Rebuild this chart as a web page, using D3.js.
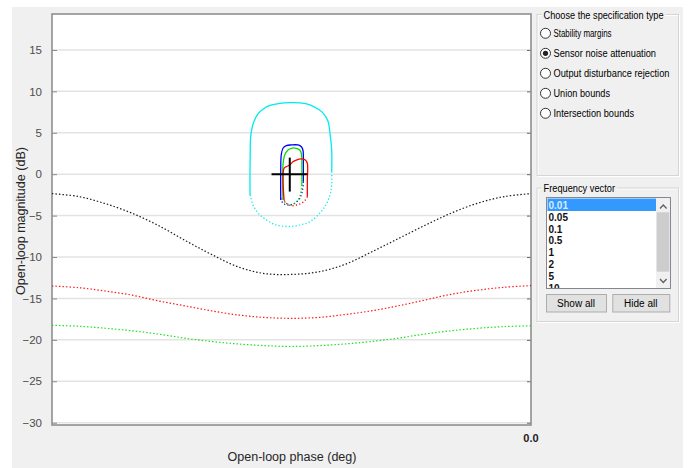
<!DOCTYPE html>
<html><head><meta charset="utf-8">
<script src="https://cdn.jsdelivr.net/npm/d3@7"></script>
<style>
html,body{margin:0;padding:0;background:#fff;}
svg{display:block;font-family:"Liberation Sans",Arial,sans-serif;}
</style></head>
<body><svg id="chart" width="691" height="468"></svg>
<script>
// ---------- data ----------
const phaseGrid = [-360,-340,-320,-300,-280,-260,-240,-220,-200,-180,-160,-140,-120,-100,-80,-60,-40,-20,0];
const boundBlack = [-2.35,-2.7,-3.55,-4.7,-6.2,-8.0,-9.7,-11.2,-12.0,-12.1,-11.8,-10.9,-9.4,-7.8,-6.2,-4.7,-3.5,-2.7,-2.35];
const boundRed   = [-13.5,-13.7,-14.1,-14.6,-15.3,-15.9,-16.5,-17.0,-17.3,-17.4,-17.3,-16.95,-16.5,-15.9,-15.2,-14.5,-14.0,-13.65,-13.45];
const boundGreen = [-18.25,-18.35,-18.6,-18.9,-19.3,-19.8,-20.2,-20.5,-20.7,-20.8,-20.7,-20.5,-20.2,-19.8,-19.3,-18.9,-18.6,-18.4,-18.3];

const cyanSolid = [[-211.2,-2.5],[-211.2,0.5],[-211.0,2.9],[-210.7,4.5],[-208.7,6.15],[-205.2,7.27],[-201.2,7.87],[-196.2,8.3],[-188.6,8.56],[-181.1,8.63],[-173.6,8.6],[-166.1,8.36],[-160.1,7.87],[-156.1,7.35],[-152.6,6.42],[-151.1,4.94],[-149.8,2.92],[-149.8,0.3]];
const cyanDotted = [[-149.8,0.3],[-149.8,-1.3],[-151.1,-2.51],[-154.1,-3.72],[-158.6,-4.68],[-166.1,-5.74],[-173.6,-6.13],[-182.4,-6.32],[-192.4,-6.07],[-199.9,-5.41],[-204.9,-4.72],[-208.9,-3.72],[-210.7,-2.72],[-211.2,-2.5]];
const blueSolid = [[-188.1,-3.12],[-188.1,0.51],[-187.7,2.32],[-186.4,3.13],[-183.9,3.44],[-180.1,3.53],[-175.1,3.53],[-172.6,3.32],[-171.4,2.92],[-171.1,1.11],[-171.1,-0.91]];
const blueDotted = [[-171.1,-0.91],[-171.7,-1.91],[-173.8,-2.91],[-177.6,-3.51],[-182.6,-3.72],[-186.4,-3.51],[-188.1,-2.91],[-188.1,-3.12]];
const greenSolid = [[-186.4,-3.12],[-186.4,1.11],[-185.1,2.32],[-182.6,2.92],[-180.1,3.13],[-176.4,3.13],[-173.8,2.92],[-172.5,2.44],[-172.2,1.11],[-172.2,-1.3]];
const greenDotted = [[-172.2,-1.3],[-173.8,-2.72],[-176.4,-3.32],[-180.1,-3.72],[-183.9,-3.51],[-186.4,-3.12]];
const redSolid = [[-185.6,-3.12],[-185.6,0.71],[-183.9,0.91],[-181.4,1.11],[-178.9,1.51],[-176.4,1.71],[-172.6,1.84],[-169.6,1.71],[-168.1,1.32],[-168.1,-0.7],[-168.1,-2.72]];
const redDotted = [[-168.1,-2.72],[-169.6,-3.12],[-172.6,-3.51],[-176.4,-3.72],[-180.1,-3.8],[-183.9,-3.51],[-185.6,-3.12]];
const crossH = [[-195,0],[-168,0]];
const crossV = [[-181.3,-2.1],[-181.3,2.0]];

const yTicks = [-30,-25,-20,-15,-10,-5,0,5,10,15];
const xTickLabels = ["0.0"];
const specTypes = ["Stability margins","Sensor noise attenuation","Output disturbance rejection","Union bounds","Intersection bounds"];
const specSelected = 1;
const freqList = ["0.01","0.05","0.1","0.5","1","2","5","10"];
const buttons = ["Show all","Hide all"];

// ---------- drawing ----------
const svg = d3.select("#chart");
svg.append("rect").attr("x",12).attr("y",7).attr("width",671).attr("height",461).attr("fill","#f0f0f0");

const L=52,R=531,T=14,B=425;
const x = d3.scaleLinear().domain([-360,0]).range([L,R]);
const y = d3.scaleLinear().domain([-30.28,19.34]).range([B,T]);

svg.append("rect").attr("x",L).attr("y",T).attr("width",R-L).attr("height",B-T).attr("fill","#fff");

// grid
svg.append("g").selectAll("line").data(yTicks).join("line")
  .attr("x1",L).attr("x2",R).attr("y1",d=>y(d)).attr("y2",d=>y(d))
  .attr("stroke","#e3e3e3").attr("stroke-width",1.5);

// axes
const yAxis = d3.axisLeft(y).tickValues(yTicks).tickSize(-5).tickPadding(10).tickFormat(d3.format("d"));
const gy = svg.append("g").attr("transform",`translate(${L},0)`).call(yAxis);
gy.select(".domain").remove();
gy.selectAll("line").attr("stroke","#8a8a8a");
gy.selectAll("text").attr("font-size",11.5).attr("fill","#4d4d4d").attr("font-family","Liberation Sans, Arial, sans-serif");
const gyr = svg.append("g").attr("transform",`translate(${R},0)`).call(d3.axisRight(y).tickValues(yTicks).tickSize(-4).tickFormat(""));
gyr.select(".domain").remove();
gyr.selectAll("line").attr("stroke","#6a6a6a");

// box
svg.append("rect").attr("x",L).attr("y",T).attr("width",R-L).attr("height",B-T)
  .attr("fill","none").attr("stroke","#8f8f8f").attr("stroke-width",1.6);

// curves
const line = d3.line().x(d=>x(d[0])).y(d=>y(d[1])).curve(d3.curveCatmullRom.alpha(0.5));
const bline = d3.line().x((d,i)=>x(phaseGrid[i])).y(d=>y(d)).curve(d3.curveCatmullRom.alpha(0.5));
const plot = svg.append("g");
[[boundBlack,"#000"],[boundRed,"#ff0000"],[boundGreen,"#00e000"]].forEach(([arr,c])=>{
  plot.append("path").attr("d",bline(arr)).attr("fill","none").attr("stroke",c)
    .attr("stroke-width",1.2).attr("stroke-dasharray","1.5,2").attr("opacity",0.9);
});
[[cyanSolid,cyanDotted,"#00eaf0"],[blueSolid,blueDotted,"#0000ff"],[greenSolid,greenDotted,"#00dd00"],[redSolid,redDotted,"#ff0000"]].forEach(([s,dt,c])=>{
  plot.append("path").attr("d",line(s)).attr("fill","none").attr("stroke",c).attr("stroke-width",1.3);
  plot.append("path").attr("d",line(dt)).attr("fill","none").attr("stroke",c).attr("stroke-width",1.3).attr("stroke-dasharray","1.2,2.2");
});
[crossH,crossV].forEach(seg=>{
  plot.append("path").attr("d",d3.line().x(d=>x(d[0])).y(d=>y(d[1]))(seg)).attr("stroke","#000").attr("stroke-width",2).attr("fill","none");
});

// x tick label
svg.append("g").selectAll("text").data(xTickLabels).join("text")
  .attr("x",x(0)).attr("y",442).attr("text-anchor","middle").attr("font-size",11).attr("font-weight","bold").attr("fill","#222").text(d=>d);

// axis labels
svg.append("text").attr("x",292).attr("y",460.5).attr("text-anchor","middle").attr("font-size",12.5).attr("fill","#262626")
  .attr("textLength",129).attr("lengthAdjust","spacingAndGlyphs").text("Open-loop phase (deg)");
svg.append("text").attr("transform","translate(25,221) rotate(-90)").attr("text-anchor","middle").attr("font-size",12.5).attr("fill","#262626")
  .attr("textLength",148).attr("lengthAdjust","spacingAndGlyphs").text("Open-loop magnitude (dB)");

// ---------- right panel ----------
function groupBox(x0,y0,x1,y1,title,tw){
  const g = svg.append("g");
  g.append("rect").attr("x",x0+0.5).attr("y",y0+0.5).attr("width",x1-x0).attr("height",y1-y0).attr("fill","none").attr("stroke","#fff");
  g.append("rect").attr("x",x0-0.5).attr("y",y0-0.5).attr("width",x1-x0).attr("height",y1-y0).attr("fill","none").attr("stroke","#d5d5d5");
  g.append("rect").attr("x",x0+4).attr("y",y0-6).attr("width",tw+4).attr("height",12).attr("fill","#f0f0f0");
  g.append("text").attr("x",x0+6).attr("y",y0+3.5).attr("font-size",10).attr("fill","#000")
    .attr("textLength",tw).attr("lengthAdjust","spacingAndGlyphs").text(title);
  return g;
}
groupBox(537.5,15,679,176,"Choose the specification type",120);
const specW = [58,102.5,116,56.5,80.5];
const rg = svg.append("g").selectAll("g").data(specTypes).join("g")
  .attr("transform",(d,i)=>`translate(545.5,${33.3+i*20})`);
rg.append("circle").attr("r",5).attr("fill","#fff").attr("stroke","#333").attr("stroke-width",1);
rg.filter((d,i)=>i===specSelected).append("circle").attr("r",2.6).attr("fill","#222");
rg.append("text").attr("x",8).attr("y",3.6).attr("font-size",10).attr("fill","#000")
  .attr("textLength",(d,i)=>specW[i]).attr("lengthAdjust","spacingAndGlyphs").text(d=>d);

groupBox(537.5,188.5,679,322,"Frequency vector",71.5);
// listbox
svg.append("rect").attr("x",546.5).attr("y",197.5).attr("width",124).attr("height",91).attr("fill","#fff").attr("stroke","#828790");
svg.append("rect").attr("x",547.5).attr("y",198.5).attr("width",108.5).attr("height",12.5).attr("fill","#3399ff");
const lg = svg.append("g");
lg.selectAll("text").data(freqList).join("text")
  .attr("x",548.5).attr("y",(d,i)=>209+i*11.8).attr("font-size",10).attr("font-weight","bold")
  .attr("fill",(d,i)=>i===0?"#dbeaff":"#111").text(d=>d);
// mask bottom of list beyond box
svg.append("rect").attr("x",546).attr("y",289).attr("width",126).attr("height",4).attr("fill","#f0f0f0");
svg.append("line").attr("x1",546.5).attr("x2",670.5).attr("y1",288.5).attr("y2",288.5).attr("stroke","#828790");
// scrollbar
svg.append("rect").attr("x",656).attr("y",198).attr("width",14).attr("height",90).attr("fill","#f0f0f0");
svg.append("rect").attr("x",656.7).attr("y",212.3).attr("width",12.6).attr("height",59.4).attr("fill","#cdcdcd");
svg.append("path").attr("d","M660,208.5 L663.3,205 L666.6,208.5").attr("fill","none").attr("stroke","#606060").attr("stroke-width",1.3);
svg.append("path").attr("d","M660,279 L663.3,282.5 L666.6,279").attr("fill","none").attr("stroke","#606060").attr("stroke-width",1.3);
// buttons
const btn = [[546,606],[612.3,669.3]];
buttons.forEach((b,i)=>{
  svg.append("rect").attr("x",btn[i][0]+0.5).attr("y",294.5).attr("width",btn[i][1]-btn[i][0]).attr("height",17.5)
    .attr("fill","#e1e1e1").attr("stroke","#adadad");
  svg.append("text").attr("x",(btn[i][0]+btn[i][1])/2).attr("y",306.8).attr("text-anchor","middle").attr("font-size",10).attr("fill","#000").text(b);
});
</script>
</body></html>
